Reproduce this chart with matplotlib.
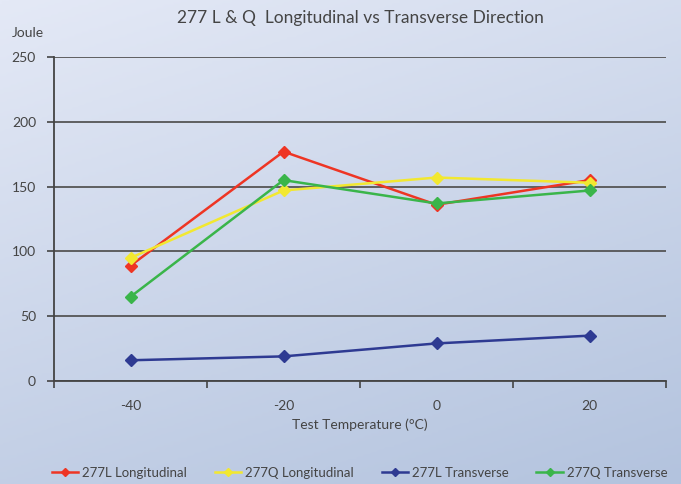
import numpy as np
import matplotlib
matplotlib.use('Agg')
import matplotlib.pyplot as plt
from matplotlib.colors import LinearSegmentedColormap

plt.rcParams['font.family'] = ['Lato', 'DejaVu Sans']

temps = ['-40', '-20', '0', '20']
l_long = [89, 177, 136, 155]
q_long = [95, 147, 157, 153]
l_trans = [16, 19, 29, 35]
q_trans = [65, 155, 137, 147]

series = [
    ('277L Longitudinal', l_long, '#ee3524'),
    ('277Q Longitudinal', q_long, '#f2e830'),
    ('277L Transverse', l_trans, '#2e3a92'),
    ('277Q Transverse', q_trans, '#3ab54a'),
]

fig = plt.figure(figsize=(6.81, 4.84), dpi=100)

# gradient background
bg = fig.add_axes([0, 0, 1, 1], zorder=-10)
bg.axis('off')
yy, xx = np.mgrid[0:1:200j, 0:1:200j]
grad = 0.55 * yy + 0.25 * xx
cmap = LinearSegmentedColormap.from_list('bg', ['#e4e9f6', '#b3c3de'])
bg.imshow(grad, cmap=cmap, aspect='auto', extent=[0, 1, 0, 1], origin='upper')

ax = fig.add_axes([0.0793, 0.2128, 0.8987, 0.6694])
ax.patch.set_alpha(0)
x = np.arange(len(temps))
for name, vals, col in series:
    ax.plot(x, vals, color=col, lw=1.8, marker='D', ms=6.5, label=name)

ax.set_xlim(-0.5, 3.5)
ax.set_ylim(0, 250)
ax.set_yticks(range(0, 251, 50))
ax.set_xticks(x)
ax.set_xticklabels(temps)
ax.set_xticks(np.arange(-0.5, 3.6, 1), minor=True)
ax.tick_params(axis='x', which='major', length=0, pad=14, labelsize=10, colors='#444444')
ax.tick_params(axis='x', which='minor', length=5, width=1.2, color='#444444', direction='out')
ax.tick_params(axis='y', length=5, width=1.2, color='#444444', labelsize=10, labelcolor='#444444', pad=8)
ax.yaxis.grid(True, color='#555555', lw=1.3)
ax.set_axisbelow(True)
for s in ['top', 'right']:
    ax.spines[s].set_visible(False)
for s in ['left', 'bottom']:
    ax.spines[s].set_color('#444444')
    ax.spines[s].set_linewidth(1.3)

ax.set_xlabel('Test Temperature (°C)', fontsize=10, color='#444444', labelpad=4)
fig.text(0.018, 0.924, 'Joule', fontsize=10, color='#444444')
fig.text(0.53, 0.963, '277 L & Q  Longitudinal vs Transverse Direction',
         fontsize=12.5, color='#444444', ha='center', va='center')

fig.legend(loc='center', bbox_to_anchor=(0.528, 0.023), ncol=4, frameon=False,
           fontsize=9.5, markerscale=0.7, handlelength=2.0, columnspacing=2.1,
           labelcolor='#444444', handletextpad=0.3)

fig.savefig('out.png', dpi=100)
